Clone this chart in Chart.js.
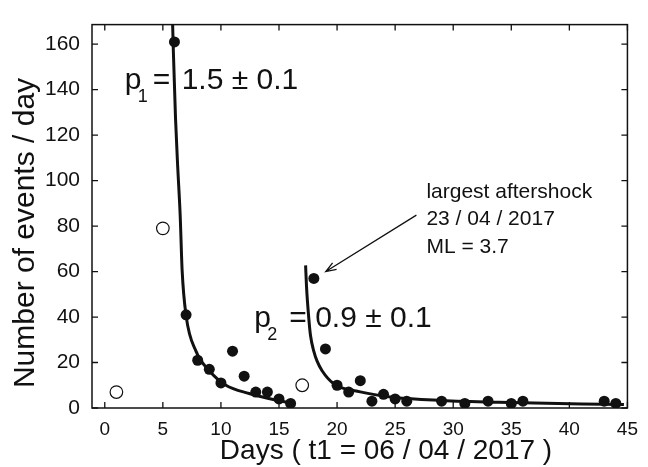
<!DOCTYPE html>
<html>
<head>
<meta charset="utf-8">
<script src="https://cdn.jsdelivr.net/npm/chart.js@4/dist/chart.umd.min.js"></script>
<style>
  body { margin: 0; background: #fff; }
  canvas { display: block; }
</style>
</head>
<body>
<canvas id="chart" width="648" height="467"></canvas>
<script>
// observed daily counts (filled = used in fit, open = excluded)
const filledDays = [6, 7, 8, 9, 10, 11, 12, 13, 14, 15, 16, 18, 19, 20, 21, 22, 23, 24, 25, 26, 29, 31, 33, 35, 36, 43, 44];
const filledEvents = [161, 41, 21, 17, 11, 25, 14, 7, 7, 4, 2, 57, 26, 10, 7, 12, 3, 6, 4, 3, 3, 2, 3, 2, 3, 3, 2];
const openDays = [1, 5, 17];
const openEvents = [7, 79, 10];

// fitted Omori curves
const fit1Days = [5.84, 5.91, 6.09, 6.28, 6.49, 6.66, 7.0, 7.86, 9.0, 10.43, 12.43, 14.71, 16.14];
const fit1Events = [169, 156, 127.5, 106, 85, 60.5, 40.6, 24.9, 16.4, 10, 6.4, 3.5, 2.1];
const fit2Days = [17.29, 17.37, 17.57, 17.71, 18.0, 18.28, 18.71, 19.71, 22, 25, 29, 33.9, 44.7];
const fit2Events = [62.7, 53.4, 39.2, 32, 24.9, 20.6, 16.4, 10.7, 7.1, 4.6, 3.3, 2.5, 1.5];

const xTicks = [0, 5, 10, 15, 20, 25, 30, 35, 40, 45];
const yTicks = [0, 20, 40, 60, 80, 100, 120, 140, 160];

const toXY = (xs, ys) => xs.map((x, i) => ({ x: x, y: ys[i] }));
const FONT = '"Liberation Sans", Arial, sans-serif';

// box, inward ticks, axis titles and annotations
const decorPlugin = {
    id: 'decor',
    afterDraw(chart) {
        const { ctx, chartArea: a, scales: { x, y } } = chart;
        ctx.save();
        ctx.strokeStyle = '#111';
        ctx.lineWidth = 1.5;
        ctx.strokeRect(a.left, a.top, a.right - a.left, a.bottom - a.top);

        ctx.lineWidth = 1.3;
        ctx.beginPath();
        xTicks.forEach(v => {
            const px = x.getPixelForValue(v);
            ctx.moveTo(px, a.bottom); ctx.lineTo(px, a.bottom - 6);
            ctx.moveTo(px, a.top); ctx.lineTo(px, a.top + 6);
        });
        yTicks.forEach(v => {
            const py = y.getPixelForValue(v);
            ctx.moveTo(a.left, py); ctx.lineTo(a.left + 6, py);
            ctx.moveTo(a.right, py); ctx.lineTo(a.right - 6, py);
        });
        ctx.stroke();

        ctx.fillStyle = '#111';
        ctx.textBaseline = 'alphabetic';

        // axis titles
        ctx.textAlign = 'center';
        ctx.font = '28px ' + FONT;
        ctx.fillText('Days ( t1 = 06 / 04 / 2017 )', 386, 459);
        ctx.save();
        ctx.translate(34, 233);
        ctx.rotate(-Math.PI / 2);
        ctx.font = '30px ' + FONT;
        ctx.fillText('Number of events / day', 0, 0);
        ctx.restore();

        // p labels
        ctx.textAlign = 'left';
        const pLabel = (t, n, sub, eqDx, valDx, value) => {
            const px = x.getPixelForValue(t);
            const py = y.getPixelForValue(n);
            ctx.font = '30px ' + FONT;
            ctx.fillText('p', px, py);
            ctx.fillText('=', px + eqDx, py);
            ctx.fillText(value, px + valDx, py);
            ctx.font = '18px ' + FONT;
            ctx.fillText(sub, px + 13, py + 13);
        };
        pLabel(1.71, 140.4, '1', 28, 57, '1.5 \u00b1 0.1');
        pLabel(12.86, 35.6, '2', 35, 61, '0.9 \u00b1 0.1');

        // largest aftershock note
        const nx = x.getPixelForValue(27.69);
        const ny = y.getPixelForValue(92.5);
        ctx.font = '21px ' + FONT;
        ['largest aftershock', '23 / 04 / 2017', 'ML = 3.7'].forEach((s, i) => {
            ctx.fillText(s, nx, ny + i * 27.5);
        });

        const x0 = x.getPixelForValue(26.83), y0 = y.getPixelForValue(84.8);
        const x1 = x.getPixelForValue(19.03), y1 = y.getPixelForValue(60.0);
        const ang = Math.atan2(y1 - y0, x1 - x0);
        ctx.lineWidth = 1.3;
        ctx.beginPath();
        ctx.moveTo(x0, y0); ctx.lineTo(x1, y1);
        ctx.moveTo(x1 - 11 * Math.cos(ang - 0.35), y1 - 11 * Math.sin(ang - 0.35));
        ctx.lineTo(x1, y1);
        ctx.lineTo(x1 - 11 * Math.cos(ang + 0.35), y1 - 11 * Math.sin(ang + 0.35));
        ctx.stroke();
        ctx.restore();
    }
};

new Chart(document.getElementById('chart'), {
    type: 'scatter',
    data: {
        datasets: [
            {
                label: 'fit 1',
                data: toXY(fit1Days, fit1Events),
                showLine: true,
                borderColor: '#111',
                borderWidth: 3,
                pointRadius: 0,
                cubicInterpolationMode: 'monotone',
                order: 3
            },
            {
                label: 'fit 2',
                data: toXY(fit2Days, fit2Events),
                showLine: true,
                borderColor: '#111',
                borderWidth: 3,
                pointRadius: 0,
                cubicInterpolationMode: 'monotone',
                order: 3
            },
            {
                label: 'used',
                data: toXY(filledDays, filledEvents),
                pointRadius: 5.5,
                backgroundColor: '#111',
                borderColor: '#111',
                borderWidth: 0,
                order: 1
            },
            {
                label: 'excluded',
                data: toXY(openDays, openEvents),
                pointRadius: 6.3,
                backgroundColor: '#fff',
                borderColor: '#111',
                borderWidth: 1.2,
                order: 1
            }
        ]
    },
    options: {
        responsive: false,
        animation: false,
        layout: { padding: { left: 0, top: 14, right: 18, bottom: 0 } },
        plugins: { legend: { display: false }, tooltip: { enabled: false } },
        scales: {
            x: {
                type: 'linear',
                min: -1.1,
                max: 45,
                grid: { display: false, drawTicks: false },
                border: { display: false },
                afterBuildTicks: s => { s.ticks = xTicks.map(v => ({ value: v })); },
                afterFit: s => { s.height = 59; },
                ticks: {
                    padding: 10,
                    color: '#111',
                    font: { family: FONT, size: 19 },
                    maxRotation: 0
                }
            },
            y: {
                type: 'linear',
                min: 0,
                max: 168.6,
                grid: { display: false, drawTicks: false },
                border: { display: false },
                afterBuildTicks: s => { s.ticks = yTicks.map(v => ({ value: v })); },
                afterFit: s => { s.width = 92; },
                ticks: {
                    padding: 12,
                    color: '#111',
                    font: { family: FONT, size: 21 }
                }
            }
        }
    },
    plugins: [decorPlugin]
});
</script>
</body>
</html>
